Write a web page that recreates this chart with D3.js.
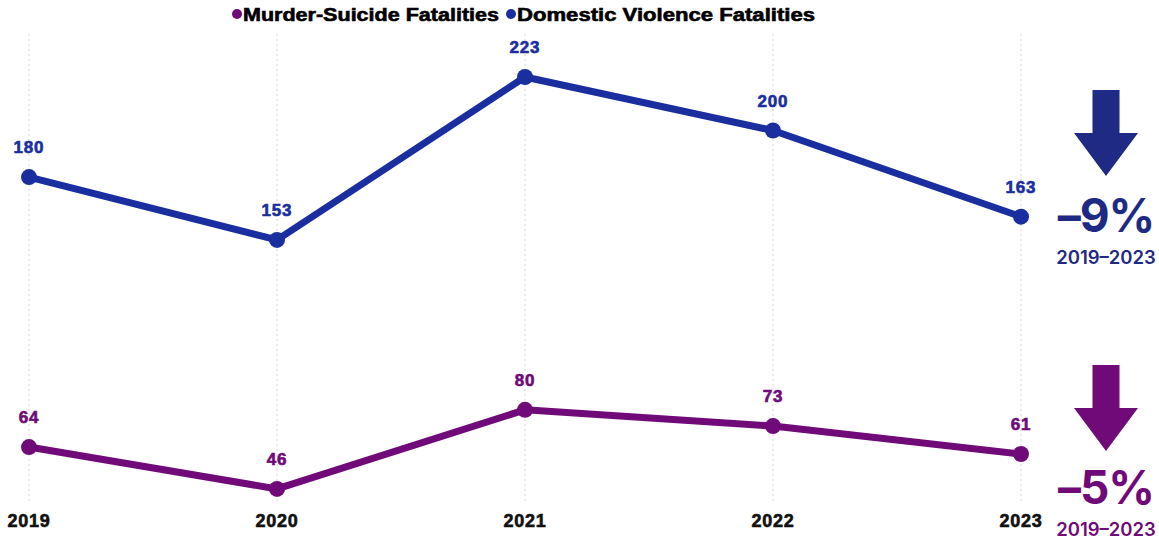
<!DOCTYPE html>
<html>
<head>
<meta charset="utf-8">
<script src="https://d3js.org/d3.v7.min.js"></script>
<style>
  body { margin: 0; background: #fff; }
  svg text { font-family: "Liberation Sans", Arial, sans-serif; }
</style>
</head>
<body>
<svg id="chart" width="1159" height="542"></svg>
<script>
// data
var years = ['2019', '2020', '2021', '2022', '2023'];
var domesticViolence = [180, 153, 223, 200, 163];
var murderSuicide = [64, 46, 80, 73, 61];
var seriesNames = ['Murder-Suicide Fatalities', 'Domestic Violence Fatalities'];
var changeLabels = ['-9%', '-5%'];
var rangeLabel = '2019\u20132023';

var blue = '#1a2ea0', purple = '#6f0a78';
var arrowBlue = '#1f2a84';

var svg = d3.select('#chart');

var x = d3.scalePoint().domain(years).range([29, 1021]);
var y = d3.scaleLinear().domain([0, 223]).range([596, 77]);

// heavy bold text helper (source font is wider/heavier than Arial Bold)
function heavy(sel, color) {
  return sel.attr('font-weight', 'bold')
    .attr('fill', color)
    .attr('stroke', color)
    .attr('stroke-width', 0.6)
    .attr('letter-spacing', 0.8);
}

// dotted vertical grid
svg.append('g').selectAll('line')
  .data(years).enter().append('line')
  .attr('x1', d => x(d)).attr('x2', d => x(d))
  .attr('y1', 34).attr('y2', 503)
  .attr('stroke', '#d6d6d6')
  .attr('stroke-width', 1)
  .attr('stroke-dasharray', '2,3');

// year labels
svg.append('g').selectAll('text')
  .data(years).enter().append('text')
  .attr('x', d => x(d)).attr('y', 527)
  .attr('text-anchor', 'middle')
  .attr('font-size', 18)
  .call(heavy, '#111')
  .text(d => d);

function drawSeries(values, color) {
  var line = d3.line().x((d, i) => x(years[i])).y(d => y(d));
  var g = svg.append('g');
  g.append('path')
    .datum(values)
    .attr('d', line)
    .attr('fill', 'none')
    .attr('stroke', color)
    .attr('stroke-width', 7)
    .attr('stroke-linejoin', 'round');
  g.selectAll('circle')
    .data(values).enter().append('circle')
    .attr('cx', (d, i) => x(years[i])).attr('cy', d => y(d))
    .attr('r', 8)
    .attr('fill', color);
  g.selectAll('text')
    .data(values).enter().append('text')
    .attr('x', (d, i) => x(years[i]))
    .attr('y', d => y(d) - 24)
    .attr('text-anchor', 'middle')
    .attr('font-size', 17)
    .call(heavy, color)
    .text(d => d);
}

drawSeries(domesticViolence, blue);
drawSeries(murderSuicide, purple);

// legend
var legend = svg.append('g');
var legendItems = [
  {name: seriesNames[0], color: purple, x: 243, w: 256},
  {name: seriesNames[1], color: blue, x: 517, w: 298}
];
legendItems.forEach(function(it) {
  legend.append('circle').attr('cx', it.x - 6).attr('cy', 14).attr('r', 5).attr('fill', it.color);
  legend.append('text').attr('x', it.x).attr('y', 21)
    .attr('font-size', 18)
    .attr('textLength', it.w).attr('lengthAdjust', 'spacingAndGlyphs')
    .call(heavy, '#000')
    .attr('letter-spacing', 0)
    .text(it.name);
});

// change annotations on the right
function drawArrow(cx, top, color) {
  var shaftW = 27, headW = 64, shaftH = 43, headH = 43;
  var pts = [
    [cx - shaftW / 2, top], [cx + shaftW / 2, top],
    [cx + shaftW / 2, top + shaftH], [cx + headW / 2, top + shaftH],
    [cx, top + shaftH + headH],
    [cx - headW / 2, top + shaftH], [cx - shaftW / 2, top + shaftH]
  ];
  svg.append('polygon')
    .attr('points', pts.map(p => p.join(',')).join(' '))
    .attr('fill', color);
}

var annFont = 'Inter, "Noto Sans", sans-serif';
var annotations = [
  {top: 90, color: arrowBlue, label: changeLabels[0], pctY: 232, rangeY: 264},
  {top: 365, color: purple, label: changeLabels[1], pctY: 504, rangeY: 536}
];
annotations.forEach(function(a) {
  drawArrow(1106, a.top, a.color);
  svg.append('text').attr('x', 1106).attr('y', a.pctY)
    .attr('text-anchor', 'middle')
    .style('font-family', annFont)
    .attr('font-size', 46).attr('font-weight', 700)
    .attr('letter-spacing', -1)
    .attr('fill', a.color)
    .text(a.label.replace('-', '\u2013'));
  svg.append('text').attr('x', 1106).attr('y', a.rangeY)
    .attr('text-anchor', 'middle')
    .style('font-family', annFont)
    .attr('font-size', 18.5).attr('font-weight', 600)
    .attr('fill', a.color)
    .text(rangeLabel);
});
</script>
</body>
</html>
